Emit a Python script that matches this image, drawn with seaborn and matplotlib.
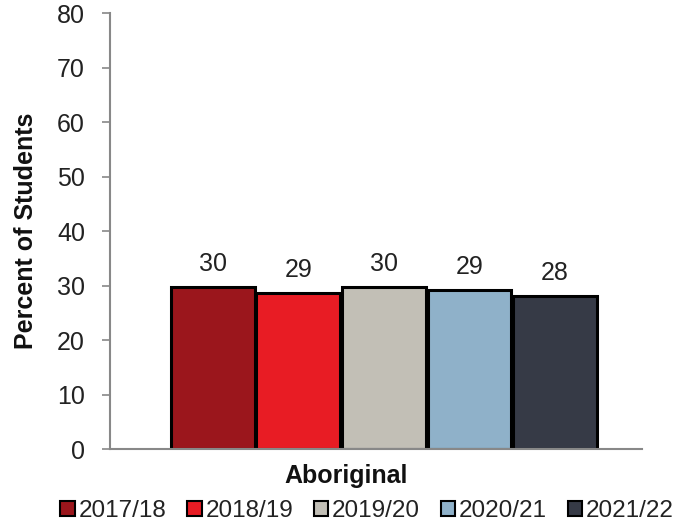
import seaborn as sns
import pandas as pd
from matplotlib import pyplot as plt
from matplotlib.patches import Patch

categories = ["Aboriginal"]
years = ["2017/18", "2018/19", "2019/20", "2020/21", "2021/22"]
values = [29.7, 28.6, 29.8, 29.1, 28.1]
labels = ["30", "29", "30", "29", "28"]
colors = ["#9B161C", "#E81C24", "#C2BFB6", "#8FB1C9", "#363A46"]

df = pd.DataFrame({"group": categories * len(years), "year": years, "pct": values})

sns.set_style("white")
plt.rcParams["font.family"] = ["Liberation Sans", "DejaVu Sans"]

fig = plt.figure(figsize=(6.81, 5.27), dpi=100)
ax = fig.add_axes([0.1615, 0.148, 0.781, 0.827])

sns.barplot(data=df, x="group", y="pct", hue="year", palette=colors,
            saturation=1, width=0.805, gap=0.02, edgecolor="black",
            linewidth=2.2, legend=False, ax=ax)

for container, lab in zip(ax.containers, labels):
    ax.bar_label(container, labels=[lab], padding=8, fontsize=18, color="#222222")

ax.set_ylim(0, 80)
ax.set_yticks(range(0, 81, 10))
ax.set_xlim(-0.515, 0.485)
ax.set_xticks([])
ax.set_xlabel("Aboriginal", fontsize=18, fontweight="bold", color="#111111")
ax.xaxis.set_label_coords(0.444, -0.035)
ax.set_ylabel("Percent of Students", fontsize=18, fontweight="bold",
              color="#111111", labelpad=14)
ax.tick_params(axis="y", labelsize=18, labelcolor="#222222", length=6, width=1.2,
               color="#888888", pad=12, left=True)
for s in ["top", "right"]:
    ax.spines[s].set_visible(False)
for s in ["left", "bottom"]:
    ax.spines[s].set_color("#888888")
    ax.spines[s].set_linewidth(1.5)

handles = [Patch(facecolor=c, edgecolor="black", linewidth=1.5) for c in colors]
fig.legend(handles, years, loc="center", bbox_to_anchor=(0.539, 0.03), ncol=5,
           frameon=False, fontsize=17.5, labelcolor="#222222", handlelength=0.6,
           handleheight=0.6, handletextpad=0.15, columnspacing=0.85)

plt.savefig("out.png", dpi=100)
